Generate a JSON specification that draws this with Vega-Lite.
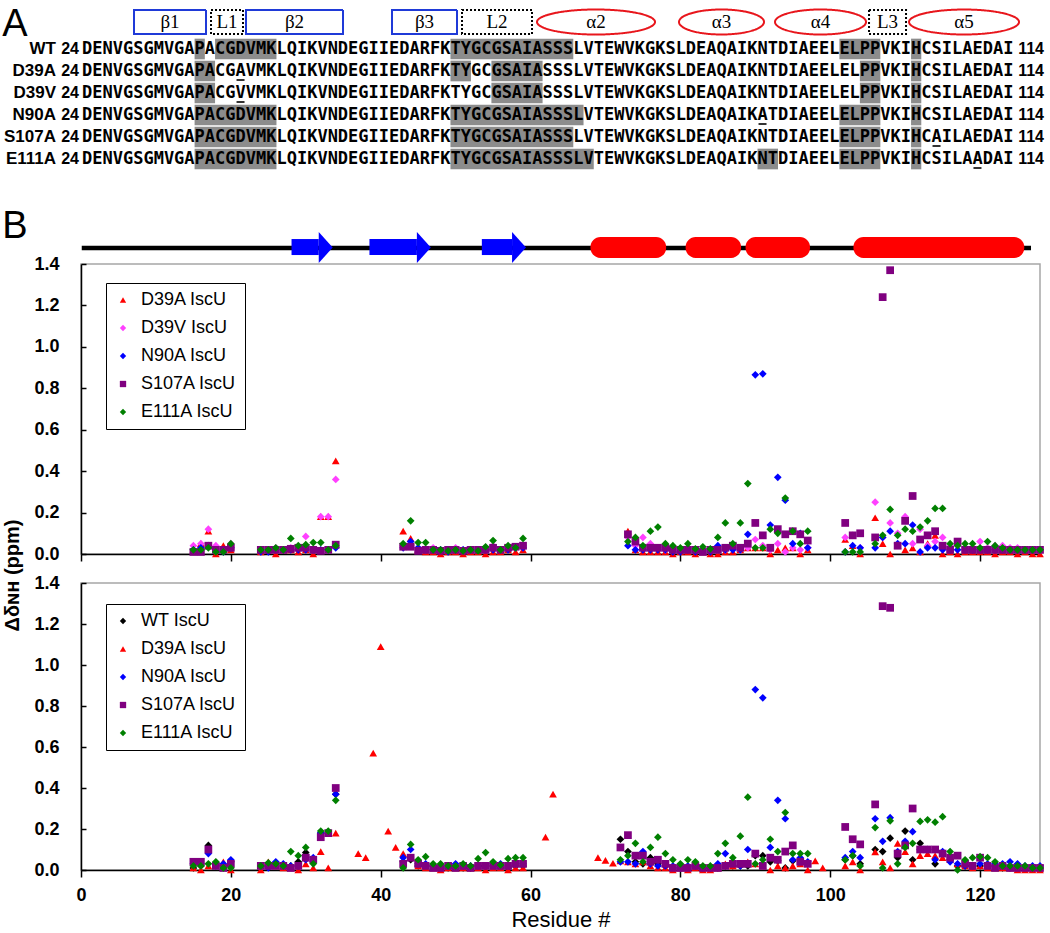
{
  "$schema": "https://vega.github.io/schema/vega-lite/v6.json",
  "padding": {"left": 2, "top": 5, "right": 2, "bottom": 2},
  "background": "white",
  "config": {
    "font": "Liberation Sans",
    "text": {"color": "black"},
    "axis": {"domainColor": "black", "domainWidth": 1.5, "tickColor": "black", "tickWidth": 1.5, "grid": false, "labelFont": "Liberation Sans", "labelFontSize": 18, "labelFontWeight": "bold", "labelColor": "black", "titleColor": "black", "titleFont": "Liberation Sans"}
  },
  "datasets": {
    "seq": [
      {"row": "WT", "start": 24, "end": 114, "seq": "DENVGSGMVGAPACGDVMKLQIKVNDEGIIEDARFKTYGCGSAIASSSLVTEWVKGKSLDEAQAIKNTDIAEELELPPVKIHCSILAEDAI"},
      {"row": "D39A", "start": 24, "end": 114, "seq": "DENVGSGMVGAPACGAVMKLQIKVNDEGIIEDARFKTYGCGSAIASSSLVTEWVKGKSLDEAQAIKNTDIAEELELPPVKIHCSILAEDAI"},
      {"row": "D39V", "start": 24, "end": 114, "seq": "DENVGSGMVGAPACGVVMKLQIKVNDEGIIEDARFKTYGCGSAIASSSLVTEWVKGKSLDEAQAIKNTDIAEELELPPVKIHCSILAEDAI"},
      {"row": "N90A", "start": 24, "end": 114, "seq": "DENVGSGMVGAPACGDVMKLQIKVNDEGIIEDARFKTYGCGSAIASSSLVTEWVKGKSLDEAQAIKATDIAEELELPPVKIHCSILAEDAI"},
      {"row": "S107A", "start": 24, "end": 114, "seq": "DENVGSGMVGAPACGDVMKLQIKVNDEGIIEDARFKTYGCGSAIASSSLVTEWVKGKSLDEAQAIKNTDIAEELELPPVKIHCAILAEDAI"},
      {"row": "E111A", "start": 24, "end": 114, "seq": "DENVGSGMVGAPACGDVMKLQIKVNDEGIIEDARFKTYGCGSAIASSSLVTEWVKGKSLDEAQAIKNTDIAEELELPPVKIHCSILAADAI"}
    ],
    "hl": [
      {"row": "WT", "from": 35, "to": 36}, {"row": "WT", "from": 37, "to": 43}, {"row": "WT", "from": 60, "to": 72}, {"row": "WT", "from": 98, "to": 102}, {"row": "WT", "from": 105, "to": 106},
      {"row": "D39A", "from": 35, "to": 37}, {"row": "D39A", "from": 60, "to": 62}, {"row": "D39A", "from": 64, "to": 69}, {"row": "D39A", "from": 100, "to": 102}, {"row": "D39A", "from": 105, "to": 106},
      {"row": "D39V", "from": 35, "to": 37}, {"row": "D39V", "from": 64, "to": 69}, {"row": "D39V", "from": 100, "to": 102}, {"row": "D39V", "from": 105, "to": 106},
      {"row": "N90A", "from": 35, "to": 43}, {"row": "N90A", "from": 60, "to": 73}, {"row": "N90A", "from": 98, "to": 102}, {"row": "N90A", "from": 105, "to": 106},
      {"row": "S107A", "from": 35, "to": 43}, {"row": "S107A", "from": 60, "to": 72}, {"row": "S107A", "from": 98, "to": 102}, {"row": "S107A", "from": 105, "to": 106},
      {"row": "E111A", "from": 35, "to": 43}, {"row": "E111A", "from": 60, "to": 74}, {"row": "E111A", "from": 90, "to": 92}, {"row": "E111A", "from": 98, "to": 102}, {"row": "E111A", "from": 105, "to": 106}
    ],
    "ul": [
      {"row": "D39A", "pos": 39}, {"row": "D39V", "pos": 39}, {"row": "N90A", "pos": 90}, {"row": "S107A", "pos": 107}, {"row": "E111A", "pos": 111}
    ],
    "ss": [
      {"lab": "β1", "c": 32.598}, {"lab": "L1", "c": 38.167}, {"lab": "β2", "c": 44.762}, {"lab": "β3", "c": 57.463}, {"lab": "L2", "c": 64.547},
      {"lab": "α2", "c": 74.22}, {"lab": "α3", "c": 86.481}, {"lab": "α4", "c": 96.154}, {"lab": "L3", "c": 102.701}, {"lab": "α5", "c": 110.175}
    ],
    "strands": [
      {"start": 28.1, "head": 31.73}, {"start": 38.5, "head": 44.83}, {"start": 53.5, "head": 57.53}
    ],
    "helices": [
      {"start": 68.0, "end": 78.1}, {"start": 80.7, "end": 88.1}, {"start": 88.7, "end": 97.3}, {"start": 103.1, "end": 125.9}
    ],
    "top": [
      {"r": 15, "D39A": 0.02, "D39V": 0.04, "N90A": 0.02, "S107A": 0.01, "E111A": 0.02},
      {"r": 16, "D39A": 0.05, "D39V": 0.05, "N90A": 0.03, "S107A": 0.01, "E111A": 0.02},
      {"r": 17, "D39A": 0.11, "D39V": 0.12, "N90A": 0.04, "S107A": 0.04, "E111A": 0.03},
      {"r": 18, "D39A": 0.0, "D39V": 0.04, "N90A": 0.02, "S107A": 0.02, "E111A": 0.01},
      {"r": 19, "D39A": 0.04, "D39V": 0.02, "N90A": 0.01, "S107A": 0.02, "E111A": 0.01},
      {"r": 20, "D39A": 0.02, "D39V": 0.05, "N90A": 0.03, "S107A": 0.03, "E111A": 0.05},
      {"r": 24, "D39A": 0.01, "D39V": 0.02, "N90A": 0.01, "S107A": 0.02, "E111A": 0.02},
      {"r": 25, "D39A": 0.02, "D39V": 0.02, "N90A": 0.01, "S107A": 0.02, "E111A": 0.02},
      {"r": 26, "D39A": 0.0, "D39V": 0.03, "N90A": 0.02, "S107A": 0.02, "E111A": 0.03},
      {"r": 27, "D39A": 0.02, "D39V": 0.02, "N90A": 0.02, "S107A": 0.02, "E111A": 0.02},
      {"r": 28, "D39A": 0.02, "D39V": 0.03, "N90A": 0.02, "S107A": 0.025, "E111A": 0.075},
      {"r": 29, "D39A": 0.01, "D39V": 0.03, "N90A": 0.02, "S107A": 0.03, "E111A": 0.04},
      {"r": 30, "D39A": 0.02, "D39V": 0.085, "N90A": 0.02, "S107A": 0.03, "E111A": 0.045},
      {"r": 31, "D39A": 0.0, "D39V": 0.02, "N90A": 0.02, "S107A": 0.02, "E111A": 0.055},
      {"r": 32, "D39A": 0.18, "D39V": 0.18, "N90A": 0.02, "S107A": 0.015, "E111A": 0.055},
      {"r": 33, "D39A": 0.18, "D39V": 0.18, "N90A": 0.02, "S107A": 0.02, "E111A": 0.02},
      {"r": 34, "D39A": 0.45, "D39V": 0.36, "N90A": 0.03, "S107A": 0.045, "E111A": 0.04},
      {"r": 43, "D39A": 0.11, "D39V": 0.04, "N90A": 0.03, "S107A": 0.035, "E111A": 0.05},
      {"r": 44, "D39A": 0.075, "D39V": 0.04, "N90A": 0.06, "S107A": 0.035, "E111A": 0.16},
      {"r": 45, "D39A": 0.02, "D39V": 0.03, "N90A": 0.03, "S107A": 0.015, "E111A": 0.055},
      {"r": 46, "D39A": 0.01, "D39V": 0.02, "N90A": 0.02, "S107A": 0.02, "E111A": 0.055},
      {"r": 47, "D39A": 0.01, "D39V": 0.03, "N90A": 0.02, "S107A": 0.02, "E111A": 0.02},
      {"r": 48, "D39A": 0.0, "D39V": 0.02, "N90A": 0.02, "S107A": 0.015, "E111A": 0.02},
      {"r": 49, "D39A": 0.01, "D39V": 0.02, "N90A": 0.01, "S107A": 0.02, "E111A": 0.015},
      {"r": 50, "D39A": 0.01, "D39V": 0.03, "N90A": 0.02, "S107A": 0.02, "E111A": 0.02},
      {"r": 51, "D39A": 0.0, "D39V": 0.02, "N90A": 0.02, "S107A": 0.015, "E111A": 0.015},
      {"r": 52, "D39A": 0.01, "D39V": 0.02, "N90A": 0.02, "S107A": 0.02, "E111A": 0.02},
      {"r": 53, "D39A": 0.01, "D39V": 0.02, "N90A": 0.02, "S107A": 0.02, "E111A": 0.015},
      {"r": 54, "D39A": 0.0, "D39V": 0.03, "N90A": 0.02, "S107A": 0.02, "E111A": 0.035},
      {"r": 55, "D39A": 0.01, "D39V": 0.04, "N90A": 0.02, "S107A": 0.03, "E111A": 0.065},
      {"r": 56, "D39A": 0.01, "D39V": 0.02, "N90A": 0.02, "S107A": 0.02, "E111A": 0.02},
      {"r": 57, "D39A": 0.02, "D39V": 0.03, "N90A": 0.02, "S107A": 0.03, "E111A": 0.04},
      {"r": 58, "D39A": 0.01, "D39V": 0.03, "N90A": 0.03, "S107A": 0.035, "E111A": 0.03},
      {"r": 59, "D39A": 0.02, "D39V": 0.04, "N90A": 0.03, "S107A": 0.04, "E111A": 0.075},
      {"r": 73, "D39A": 0.11, "D39V": 0.08, "N90A": 0.04, "S107A": 0.095, "E111A": 0.06},
      {"r": 74, "D39A": 0.02, "D39V": 0.04, "N90A": 0.02, "S107A": 0.06, "E111A": 0.08},
      {"r": 75, "D39A": 0.01, "D39V": 0.08, "N90A": 0.02, "S107A": 0.03, "E111A": 0.04},
      {"r": 76, "D39A": 0.01, "D39V": 0.05, "N90A": 0.02, "S107A": 0.03, "E111A": 0.11},
      {"r": 77, "D39A": 0.01, "D39V": 0.03, "N90A": 0.02, "S107A": 0.03, "E111A": 0.13},
      {"r": 78, "D39A": 0.01, "D39V": 0.02, "N90A": 0.02, "S107A": 0.03, "E111A": 0.05},
      {"r": 79, "D39A": 0.0, "D39V": 0.02, "N90A": 0.01, "S107A": 0.02, "E111A": 0.04},
      {"r": 80, "D39A": 0.01, "D39V": 0.02, "N90A": 0.01, "S107A": 0.02, "E111A": 0.03},
      {"r": 81, "D39A": 0.01, "D39V": 0.03, "N90A": 0.02, "S107A": 0.02, "E111A": 0.05},
      {"r": 82, "D39A": 0.0, "D39V": 0.02, "N90A": 0.01, "S107A": 0.02, "E111A": 0.025},
      {"r": 83, "D39A": 0.01, "D39V": 0.02, "N90A": 0.02, "S107A": 0.01, "E111A": 0.035},
      {"r": 84, "D39A": 0.0, "D39V": 0.02, "N90A": 0.01, "S107A": 0.02, "E111A": 0.025},
      {"r": 85, "D39A": 0.0, "D39V": 0.02, "N90A": 0.04, "S107A": 0.02, "E111A": 0.08},
      {"r": 86, "D39A": 0.01, "D39V": 0.02, "N90A": 0.02, "S107A": 0.03, "E111A": 0.15},
      {"r": 87, "D39A": 0.01, "D39V": 0.03, "N90A": 0.02, "S107A": 0.04, "E111A": 0.05},
      {"r": 88, "D39A": 0.02, "D39V": 0.02, "N90A": 0.02, "S107A": 0.03, "E111A": 0.15},
      {"r": 89, "D39A": 0.03, "D39V": 0.03, "N90A": 0.095, "S107A": 0.05, "E111A": 0.34},
      {"r": 90, "D39A": 0.03, "D39V": 0.07, "N90A": 0.865, "S107A": 0.15, "E111A": 0.03},
      {"r": 91, "D39A": 0.03, "D39V": 0.04, "N90A": 0.87, "S107A": 0.09, "E111A": 0.03},
      {"r": 92, "D39A": 0.0, "D39V": 0.02, "N90A": 0.14, "S107A": 0.03, "E111A": 0.12},
      {"r": 93, "D39A": 0.02, "D39V": 0.05, "N90A": 0.37, "S107A": 0.12, "E111A": 0.1},
      {"r": 94, "D39A": 0.03, "D39V": 0.01, "N90A": 0.26, "S107A": 0.095, "E111A": 0.27},
      {"r": 95, "D39A": 0.03, "D39V": 0.03, "N90A": 0.05, "S107A": 0.11, "E111A": 0.11},
      {"r": 96, "D39A": 0.0, "D39V": 0.02, "N90A": 0.1, "S107A": 0.095, "E111A": 0.05},
      {"r": 97, "D39A": 0.02, "D39V": 0.03, "N90A": 0.03, "S107A": 0.065, "E111A": 0.11},
      {"r": 102, "D39A": 0.07, "D39V": 0.08, "N90A": 0.01, "S107A": 0.15, "E111A": 0.01},
      {"r": 103, "D39A": 0.04, "D39V": 0.09, "N90A": 0.04, "S107A": 0.09, "E111A": 0.01},
      {"r": 104, "D39A": 0.0, "D39V": 0.03, "N90A": 0.03, "S107A": 0.1, "E111A": 0.01},
      {"r": 106, "D39A": 0.175, "D39V": 0.25, "N90A": 0.03, "S107A": 0.08, "E111A": 0.05},
      {"r": 107, "D39A": 0.05, "D39V": 0.08, "N90A": 0.08, "S107A": 1.24, "E111A": 0.09},
      {"r": 108, "D39A": 0.0, "D39V": 0.15, "N90A": 0.11, "S107A": 1.37, "E111A": 0.215},
      {"r": 109, "D39A": 0.04, "D39V": 0.1, "N90A": 0.05, "S107A": 0.04, "E111A": 0.09},
      {"r": 110, "D39A": 0.02, "D39V": 0.18, "N90A": 0.05, "S107A": 0.16, "E111A": 0.12},
      {"r": 111, "D39A": 0.03, "D39V": 0.05, "N90A": 0.14, "S107A": 0.28, "E111A": 0.11},
      {"r": 112, "D39A": 0.01, "D39V": 0.12, "N90A": 0.01, "S107A": 0.07, "E111A": 0.13},
      {"r": 113, "D39A": 0.05, "D39V": 0.04, "N90A": 0.03, "S107A": 0.09, "E111A": 0.16},
      {"r": 114, "D39A": 0.09, "D39V": 0.06, "N90A": 0.03, "S107A": 0.11, "E111A": 0.22},
      {"r": 115, "D39A": 0.0, "D39V": 0.08, "N90A": 0.02, "S107A": 0.04, "E111A": 0.22},
      {"r": 116, "D39A": 0.01, "D39V": 0.04, "N90A": 0.02, "S107A": 0.02, "E111A": 0.05},
      {"r": 117, "D39A": 0.0, "D39V": 0.04, "N90A": 0.02, "S107A": 0.06, "E111A": 0.04},
      {"r": 118, "D39A": 0.01, "D39V": 0.03, "N90A": 0.02, "S107A": 0.02, "E111A": 0.05},
      {"r": 119, "D39A": 0.01, "D39V": 0.03, "N90A": 0.02, "S107A": 0.02, "E111A": 0.05},
      {"r": 120, "D39A": 0.01, "D39V": 0.06, "N90A": 0.02, "S107A": 0.02, "E111A": 0.03},
      {"r": 121, "D39A": 0.01, "D39V": 0.03, "N90A": 0.02, "S107A": 0.02, "E111A": 0.06},
      {"r": 122, "D39A": 0.0, "D39V": 0.04, "N90A": 0.02, "S107A": 0.02, "E111A": 0.04},
      {"r": 123, "D39A": 0.01, "D39V": 0.04, "N90A": 0.02, "S107A": 0.02, "E111A": 0.03},
      {"r": 124, "D39A": 0.01, "D39V": 0.03, "N90A": 0.02, "S107A": 0.02, "E111A": 0.02},
      {"r": 125, "D39A": 0.0, "D39V": 0.03, "N90A": 0.02, "S107A": 0.02, "E111A": 0.02},
      {"r": 126, "D39A": 0.01, "D39V": 0.02, "N90A": 0.02, "S107A": 0.02, "E111A": 0.02},
      {"r": 127, "D39A": 0.0, "D39V": 0.02, "N90A": 0.02, "S107A": 0.02, "E111A": 0.02},
      {"r": 128, "D39A": 0.0, "D39V": 0.02, "N90A": 0.02, "S107A": 0.02, "E111A": 0.02}
    ],
    "bottom": [
      {"r": 15, "WT": 0.01, "D39A": 0.01, "N90A": 0.03, "S107A": 0.04, "E111A": 0.02},
      {"r": 16, "WT": 0.02, "D39A": 0.0, "N90A": 0.03, "S107A": 0.04, "E111A": 0.02},
      {"r": 17, "WT": 0.12, "D39A": 0.02, "N90A": 0.08, "S107A": 0.1, "E111A": 0.03},
      {"r": 18, "WT": 0.03, "D39A": 0.04, "N90A": 0.02, "S107A": 0.02, "E111A": 0.04},
      {"r": 19, "WT": 0.02, "D39A": 0.04, "N90A": 0.03, "S107A": 0.01, "E111A": 0.01},
      {"r": 20, "WT": 0.04, "D39A": 0.0, "N90A": 0.05, "S107A": 0.03, "E111A": 0.01},
      {"r": 24, "WT": 0.02, "D39A": 0.0, "N90A": 0.02, "S107A": 0.02, "E111A": 0.02},
      {"r": 25, "WT": 0.02, "D39A": 0.04, "N90A": 0.01, "S107A": 0.02, "E111A": 0.035},
      {"r": 26, "WT": 0.03, "D39A": 0.02, "N90A": 0.04, "S107A": 0.02, "E111A": 0.03},
      {"r": 27, "WT": 0.02, "D39A": 0.01, "N90A": 0.03, "S107A": 0.02, "E111A": 0.02},
      {"r": 28, "WT": 0.02, "D39A": 0.01, "N90A": 0.02, "S107A": 0.01, "E111A": 0.09},
      {"r": 29, "WT": 0.04, "D39A": 0.0, "N90A": 0.02, "S107A": 0.02, "E111A": 0.07},
      {"r": 30, "WT": 0.085, "D39A": 0.03, "N90A": 0.05, "S107A": 0.06, "E111A": 0.11},
      {"r": 31, "WT": 0.04, "D39A": 0.01, "N90A": 0.06, "S107A": 0.05, "E111A": 0.03},
      {"r": 32, "WT": 0.18, "D39A": 0.09, "N90A": 0.18, "S107A": 0.16, "E111A": 0.19},
      {"r": 33, "WT": 0.18, "D39A": 0.01, "N90A": 0.18, "S107A": 0.18, "E111A": 0.19},
      {"r": 34, "WT": 0.37, "D39A": 0.18, "N90A": 0.37, "S107A": 0.4, "E111A": 0.34},
      {"r": 37, "D39A": 0.08},
      {"r": 38, "D39A": 0.06},
      {"r": 39, "D39A": 0.57},
      {"r": 40, "D39A": 1.09},
      {"r": 41, "D39A": 0.19},
      {"r": 42, "D39A": 0.11},
      {"r": 43, "WT": 0.04, "D39A": 0.08, "N90A": 0.06, "S107A": 0.03, "E111A": 0.01},
      {"r": 44, "WT": 0.05, "D39A": 0.06, "N90A": 0.1, "S107A": 0.06, "E111A": 0.125},
      {"r": 45, "WT": 0.02, "D39A": 0.02, "N90A": 0.03, "S107A": 0.03, "E111A": 0.05},
      {"r": 46, "WT": 0.02, "D39A": 0.01, "N90A": 0.03, "S107A": 0.02, "E111A": 0.065},
      {"r": 47, "WT": 0.02, "D39A": 0.01, "N90A": 0.02, "S107A": 0.01, "E111A": 0.03},
      {"r": 48, "WT": 0.01, "D39A": 0.0, "N90A": 0.02, "S107A": 0.01, "E111A": 0.03},
      {"r": 49, "WT": 0.01, "D39A": 0.01, "N90A": 0.02, "S107A": 0.02, "E111A": 0.02},
      {"r": 50, "WT": 0.02, "D39A": 0.01, "N90A": 0.03, "S107A": 0.01, "E111A": 0.02},
      {"r": 51, "WT": 0.01, "D39A": 0.01, "N90A": 0.02, "S107A": 0.02, "E111A": 0.03},
      {"r": 52, "WT": 0.01, "D39A": 0.01, "N90A": 0.02, "S107A": 0.01, "E111A": 0.02},
      {"r": 53, "WT": 0.02, "D39A": 0.01, "N90A": 0.02, "S107A": 0.02, "E111A": 0.055},
      {"r": 54, "WT": 0.02, "D39A": 0.0, "N90A": 0.02, "S107A": 0.02, "E111A": 0.085},
      {"r": 55, "WT": 0.02, "D39A": 0.01, "N90A": 0.03, "S107A": 0.02, "E111A": 0.04},
      {"r": 56, "WT": 0.02, "D39A": 0.01, "N90A": 0.03, "S107A": 0.02, "E111A": 0.025},
      {"r": 57, "WT": 0.01, "D39A": 0.0, "N90A": 0.02, "S107A": 0.02, "E111A": 0.055},
      {"r": 58, "WT": 0.02, "D39A": 0.01, "N90A": 0.03, "S107A": 0.03, "E111A": 0.06},
      {"r": 59, "WT": 0.02, "D39A": 0.01, "N90A": 0.03, "S107A": 0.03, "E111A": 0.06},
      {"r": 62, "D39A": 0.16},
      {"r": 63, "D39A": 0.37},
      {"r": 69, "D39A": 0.06},
      {"r": 70, "D39A": 0.047},
      {"r": 71, "D39A": 0.033},
      {"r": 72, "WT": 0.15, "D39A": 0.045, "N90A": 0.04, "S107A": 0.11, "E111A": 0.05},
      {"r": 73, "WT": 0.09, "D39A": 0.04, "N90A": 0.04, "S107A": 0.17, "E111A": 0.07},
      {"r": 74, "WT": 0.04, "D39A": 0.03, "N90A": 0.03, "S107A": 0.07, "E111A": 0.13},
      {"r": 75, "WT": 0.03, "D39A": 0.04, "N90A": 0.09, "S107A": 0.07, "E111A": 0.04},
      {"r": 76, "WT": 0.06, "D39A": 0.02, "N90A": 0.03, "S107A": 0.04, "E111A": 0.11},
      {"r": 77, "WT": 0.03, "D39A": 0.01, "N90A": 0.02, "S107A": 0.05, "E111A": 0.16},
      {"r": 78, "WT": 0.02, "D39A": 0.01, "N90A": 0.02, "S107A": 0.03, "E111A": 0.08},
      {"r": 79, "WT": 0.01, "D39A": 0.0, "N90A": 0.02, "S107A": 0.01, "E111A": 0.05},
      {"r": 80, "WT": 0.01, "D39A": 0.01, "N90A": 0.01, "S107A": 0.01, "E111A": 0.03},
      {"r": 81, "WT": 0.01, "D39A": 0.0, "N90A": 0.02, "S107A": 0.01, "E111A": 0.05},
      {"r": 82, "WT": 0.02, "D39A": 0.01, "N90A": 0.02, "S107A": 0.02, "E111A": 0.04},
      {"r": 83, "WT": 0.01, "D39A": 0.0, "N90A": 0.01, "S107A": 0.01, "E111A": 0.02},
      {"r": 84, "WT": 0.01, "D39A": 0.0, "N90A": 0.01, "S107A": 0.01, "E111A": 0.02},
      {"r": 85, "WT": 0.01, "D39A": 0.01, "N90A": 0.03, "S107A": 0.01, "E111A": 0.08},
      {"r": 86, "WT": 0.02, "D39A": 0.03, "N90A": 0.08, "S107A": 0.02, "E111A": 0.13},
      {"r": 87, "WT": 0.02, "D39A": 0.02, "N90A": 0.04, "S107A": 0.03, "E111A": 0.06},
      {"r": 88, "WT": 0.02, "D39A": 0.03, "N90A": 0.02, "S107A": 0.03, "E111A": 0.165},
      {"r": 89, "WT": 0.02, "D39A": 0.04, "N90A": 0.1, "S107A": 0.03, "E111A": 0.355},
      {"r": 90, "WT": 0.07, "D39A": 0.03, "N90A": 0.88, "S107A": 0.08, "E111A": 0.03},
      {"r": 91, "WT": 0.07, "D39A": 0.02, "N90A": 0.84, "S107A": 0.02, "E111A": 0.05},
      {"r": 92, "WT": 0.04, "D39A": 0.0, "N90A": 0.11, "S107A": 0.06, "E111A": 0.15},
      {"r": 93, "WT": 0.045, "D39A": 0.02, "N90A": 0.34, "S107A": 0.05, "E111A": 0.09},
      {"r": 94, "WT": 0.01, "D39A": 0.01, "N90A": 0.25, "S107A": 0.09, "E111A": 0.28},
      {"r": 95, "WT": 0.045, "D39A": 0.02, "N90A": 0.05, "S107A": 0.12, "E111A": 0.08},
      {"r": 96, "WT": 0.05, "D39A": 0.03, "N90A": 0.06, "S107A": 0.04, "E111A": 0.08},
      {"r": 97, "WT": 0.03, "D39A": 0.0, "N90A": 0.04, "S107A": 0.03, "E111A": 0.08},
      {"r": 98, "D39A": 0.045},
      {"r": 99, "D39A": 0.01},
      {"r": 102, "WT": 0.05, "D39A": 0.02, "N90A": 0.06, "S107A": 0.21, "E111A": 0.05},
      {"r": 103, "WT": 0.07, "D39A": 0.04, "N90A": 0.09, "S107A": 0.15, "E111A": 0.07},
      {"r": 104, "WT": 0.03, "D39A": 0.0, "N90A": 0.06, "S107A": 0.125, "E111A": 0.02},
      {"r": 106, "WT": 0.1, "D39A": 0.088, "N90A": 0.25, "S107A": 0.32, "E111A": 0.207},
      {"r": 107, "WT": 0.09, "D39A": 0.04, "N90A": 0.14, "S107A": 1.287, "E111A": 0.01},
      {"r": 108, "WT": 0.155, "D39A": 0.01, "N90A": 0.255, "S107A": 1.279, "E111A": 0.24},
      {"r": 109, "WT": 0.06, "D39A": 0.13, "N90A": 0.09, "S107A": 0.08, "E111A": 0.03},
      {"r": 110, "WT": 0.19, "D39A": 0.09, "N90A": 0.14, "S107A": 0.12, "E111A": 0.11},
      {"r": 111, "WT": 0.05, "D39A": 0.03, "N90A": 0.187, "S107A": 0.3, "E111A": 0.13},
      {"r": 112, "WT": 0.13, "D39A": 0.07, "N90A": 0.1, "S107A": 0.1, "E111A": 0.237},
      {"r": 113, "WT": 0.1, "D39A": 0.08, "N90A": 0.1, "S107A": 0.1, "E111A": 0.245},
      {"r": 114, "WT": 0.03, "D39A": 0.07, "N90A": 0.05, "S107A": 0.1, "E111A": 0.233},
      {"r": 115, "WT": 0.08, "D39A": 0.06, "N90A": 0.09, "S107A": 0.08, "E111A": 0.26},
      {"r": 116, "WT": 0.05, "D39A": 0.05, "N90A": 0.04, "S107A": 0.06, "E111A": 0.09},
      {"r": 117, "WT": 0.02, "D39A": 0.03, "N90A": 0.03, "S107A": 0.07, "E111A": 0.0},
      {"r": 118, "WT": 0.02, "D39A": 0.02, "N90A": 0.02, "S107A": 0.03, "E111A": 0.05},
      {"r": 119, "WT": 0.02, "D39A": 0.01, "N90A": 0.02, "S107A": 0.02, "E111A": 0.06},
      {"r": 120, "WT": 0.02, "D39A": 0.02, "N90A": 0.03, "S107A": 0.06, "E111A": 0.065},
      {"r": 121, "WT": 0.02, "D39A": 0.01, "N90A": 0.03, "S107A": 0.02, "E111A": 0.06},
      {"r": 122, "WT": 0.02, "D39A": 0.01, "N90A": 0.03, "S107A": 0.01, "E111A": 0.04},
      {"r": 123, "WT": 0.01, "D39A": 0.01, "N90A": 0.03, "S107A": 0.02, "E111A": 0.02},
      {"r": 124, "WT": 0.01, "D39A": 0.01, "N90A": 0.04, "S107A": 0.01, "E111A": 0.02},
      {"r": 125, "WT": 0.01, "D39A": 0.0, "N90A": 0.03, "S107A": 0.01, "E111A": 0.02},
      {"r": 126, "WT": 0.01, "D39A": 0.0, "N90A": 0.02, "S107A": 0.01, "E111A": 0.02},
      {"r": 127, "WT": 0.01, "D39A": 0.0, "N90A": 0.02, "S107A": 0.01, "E111A": 0.01},
      {"r": 128, "WT": 0.01, "D39A": 0.0, "N90A": 0.02, "S107A": 0.01, "E111A": 0.01}
    ]
  },
  "spacing": 62,
  "bounds": "flush",
  "resolve": {
    "scale": {"color": "independent", "shape": "independent", "size": "independent", "stroke": "independent", "strokeDash": "independent"},
    "legend": {"color": "independent", "shape": "independent", "size": "independent", "stroke": "independent", "strokeDash": "independent"}
  },
  "vconcat": [
    {
      "width": 959,
      "height": 154,
      "view": {"stroke": null},
      "layer": [
        {
          "data": {"name": "hl"},
          "mark": {"type": "rect", "color": "#8c8c8c"},
          "encoding": {
            "x": {"field": "from", "type": "quantitative", "scale": {"domain": [23.902, 117.598], "nice": false, "zero": false}, "axis": null},
            "x2": {"field": "to"},
            "y": {"field": "row", "type": "nominal", "scale": {"domain": ["hdr", "WT", "D39A", "D39V", "N90A", "S107A", "E111A"], "paddingInner": 0.06, "paddingOuter": 0.03}, "axis": null}
          }
        },
        {
          "data": {"name": "seq"},
          "mark": {"type": "text", "align": "left", "baseline": "middle", "font": "DejaVu Sans Mono", "fontWeight": "bold", "fontSize": 17, "color": "black"},
          "encoding": {
            "x": {"field": "start", "type": "quantitative"},
            "y": {"field": "row", "type": "nominal"},
            "text": {"field": "seq"}
          }
        },
        {
          "data": {"name": "seq"},
          "mark": {"type": "text", "align": "right", "baseline": "middle", "fontWeight": "bold", "fontSize": 17, "dx": -26, "color": "black"},
          "encoding": {
            "x": {"field": "start", "type": "quantitative"},
            "y": {"field": "row", "type": "nominal"},
            "text": {"field": "row"}
          }
        },
        {
          "data": {"name": "seq"},
          "mark": {"type": "text", "align": "right", "baseline": "middle", "fontWeight": "bold", "fontSize": 16, "dx": -3, "color": "black"},
          "encoding": {
            "x": {"field": "start", "type": "quantitative"},
            "y": {"field": "row", "type": "nominal"},
            "text": {"field": "start"}
          }
        },
        {
          "data": {"name": "seq"},
          "mark": {"type": "text", "align": "left", "baseline": "middle", "fontWeight": "bold", "fontSize": 16, "dx": 15, "color": "black"},
          "encoding": {
            "x": {"field": "end", "type": "quantitative"},
            "y": {"field": "row", "type": "nominal"},
            "text": {"field": "end"}
          }
        },
        {
          "data": {"name": "ul"},
          "mark": {"type": "rule", "color": "black", "strokeWidth": 1.6, "xOffset": 1, "x2Offset": 9, "yOffset": 9},
          "encoding": {
            "x": {"field": "pos", "type": "quantitative"},
            "x2": {"field": "pos"},
            "y": {"field": "row", "type": "nominal"}
          }
        },
        {
          "data": {"name": "ss"},
          "mark": {"type": "point", "filled": false, "strokeWidth": 2, "opacity": 1, "yOffset": -5},
          "encoding": {
            "x": {"field": "c", "type": "quantitative"},
            "y": {"datum": "hdr", "type": "nominal"},
            "shape": {"field": "lab", "type": "nominal", "legend": null, "scale": {"domain": ["β1", "L1", "β2", "β3", "L2", "α2", "α3", "α4", "L3", "α5"], "range": [
              "M-1,-0.333L1,-0.333L1,0.333L-1,0.333Z",
              "M-1,-0.75L1,-0.75L1,0.75L-1,0.75Z",
              "M-1,-0.247L1,-0.247L1,0.247L-1,0.247Z",
              "M-1,-0.369L1,-0.369L1,0.369L-1,0.369Z",
              "M-1,-0.343L1,-0.343L1,0.343L-1,0.343Z",
              "M-1,0A1,0.212,0,1,1,1,0A1,0.212,0,1,1,-1,0Z",
              "M-1,0A1,0.294,0,1,1,1,0A1,0.294,0,1,1,-1,0Z",
              "M-1,0A1,0.275,0,1,1,1,0A1,0.275,0,1,1,-1,0Z",
              "M-1,-0.649L1,-0.649L1,0.649L-1,0.649Z",
              "M-1,0A1,0.227,0,1,1,1,0A1,0.227,0,1,1,-1,0Z"
            ]}},
            "size": {"field": "lab", "type": "nominal", "legend": null, "scale": {"type": "ordinal", "domain": ["β1", "L1", "β2", "β3", "L2", "α2", "α3", "α4", "L3", "α5"], "range": [5184, 1024, 9409, 4225, 4900, 13924, 7225, 8281, 1369, 12100]}},
            "stroke": {"field": "lab", "type": "nominal", "legend": null, "scale": {"domain": ["β1", "L1", "β2", "β3", "L2", "α2", "α3", "α4", "L3", "α5"], "range": ["#1f3ad8", "#000000", "#1f3ad8", "#1f3ad8", "#000000", "#e8161c", "#e8161c", "#e8161c", "#000000", "#e8161c"]}},
            "strokeDash": {"field": "lab", "type": "nominal", "legend": null, "scale": {"domain": ["β1", "L1", "β2", "β3", "L2", "α2", "α3", "α4", "L3", "α5"], "range": [[1, 0], [2, 2], [1, 0], [1, 0], [2, 2], [1, 0], [1, 0], [1, 0], [2, 2], [1, 0]]}}
          }
        },
        {
          "data": {"name": "ss"},
          "mark": {"type": "text", "font": "Liberation Serif", "fontSize": 19, "baseline": "middle", "align": "center", "yOffset": -5, "color": "black"},
          "encoding": {
            "x": {"field": "c", "type": "quantitative"},
            "y": {"datum": "hdr", "type": "nominal"},
            "text": {"field": "lab"}
          }
        },
        {
          "data": {"values": [{"t": "A"}]},
          "mark": {"type": "text", "fontSize": 38, "align": "left", "baseline": "alphabetic", "yOffset": 9, "color": "black"},
          "encoding": {
            "x": {"datum": 16.2, "type": "quantitative"},
            "y": {"datum": "hdr", "type": "nominal"},
            "text": {"field": "t"}
          }
        }
      ]
    },
    {
      "spacing": 0,
      "bounds": "flush",
      "resolve": {
        "scale": {"color": "independent", "shape": "independent"},
        "legend": {"color": "independent", "shape": "independent"}
      },
      "vconcat": [
        {
          "width": 959,
          "height": 32,
          "view": {"stroke": null},
          "layer": [
            {
              "data": {"values": [{"from": 0.1, "to": 126.8}]},
              "mark": {"type": "rule", "color": "black", "strokeWidth": 4.5},
              "encoding": {
                "x": {"field": "from", "type": "quantitative", "scale": {"domain": [0, 128], "nice": false, "zero": false}, "axis": null},
                "x2": {"field": "to"},
                "y": {"datum": 0.5, "type": "quantitative", "scale": {"domain": [0, 1], "nice": false, "zero": false}, "axis": null}
              }
            },
            {
              "data": {"name": "strands"},
              "mark": {"type": "rect", "color": "#0000ff"},
              "encoding": {
                "x": {"field": "start", "type": "quantitative"},
                "x2": {"field": "head"},
                "y": {"datum": 0.28, "type": "quantitative"},
                "y2": {"datum": 0.78}
              }
            },
            {
              "data": {"name": "strands"},
              "mark": {"type": "point", "filled": true, "opacity": 1, "color": "#0000ff", "shape": "M-0.45,-1L0.45,0L-0.45,1Z", "size": 961, "xOffset": 7},
              "encoding": {
                "x": {"field": "head", "type": "quantitative"},
                "y": {"datum": 0.515, "type": "quantitative"}
              }
            },
            {
              "data": {"name": "helices"},
              "mark": {"type": "rect", "color": "#ff0000", "cornerRadius": 10},
              "encoding": {
                "x": {"field": "start", "type": "quantitative"},
                "x2": {"field": "end"},
                "y": {"datum": 0.19, "type": "quantitative"},
                "y2": {"datum": 0.84}
              }
            },
            {
              "data": {"values": [{"t": "B"}]},
              "mark": {"type": "text", "fontSize": 38, "align": "left", "baseline": "alphabetic", "color": "black"},
              "encoding": {
                "x": {"datum": -10.5, "type": "quantitative"},
                "y": {"datum": 0.8125, "type": "quantitative"},
                "text": {"field": "t"}
              }
            }
          ]
        },
        {
          "spacing": 29,
          "bounds": "flush",
          "resolve": {
            "scale": {"color": "independent", "shape": "independent"},
            "legend": {"color": "independent", "shape": "independent"}
          },
          "vconcat": [
            {
              "width": 959,
              "height": 290,
              "view": {"stroke": "#a6a6a6", "strokeWidth": 1.5},
              "data": {"name": "top"},
              "transform": [
                {"fold": ["D39A", "D39V", "N90A", "S107A", "E111A"], "as": ["series", "value"]},
                {"filter": "isValid(datum.value)"}
              ],
              "mark": {"type": "point", "filled": true, "size": 60, "opacity": 1, "strokeWidth": 0},
              "encoding": {
                "x": {"field": "r", "type": "quantitative", "scale": {"domain": [0, 128], "nice": false, "zero": false}, "axis": {"values": [0, 20, 40, 60, 80, 100, 120], "labels": false, "tickSize": 7, "title": null}},
                "y": {"field": "value", "type": "quantitative", "scale": {"domain": [0, 1.4], "nice": false}, "axis": {"values": [0, 0.2, 0.4, 0.6, 0.8, 1, 1.2, 1.4], "format": ".1f", "title": null, "tickSize": -5, "labelPadding": 27}},
                "color": {"field": "series", "type": "nominal", "scale": {"domain": ["D39A", "D39V", "N90A", "S107A", "E111A"], "range": ["#ff0000", "#ff40ff", "#0000ff", "#800080", "#008000"]},
                  "legend": {"orient": "none", "legendX": 25, "legendY": 19, "title": null, "fillColor": "white", "strokeColor": "black", "padding": 8, "rowPadding": 10, "labelFontSize": 18, "labelFont": "Liberation Sans", "labelColor": "black", "symbolSize": 40, "labelOffset": 9, "symbolStrokeWidth": 0, "labelExpr": "datum.label + ' IscU'"}},
                "shape": {"field": "series", "type": "nominal", "scale": {"domain": ["D39A", "D39V", "N90A", "S107A", "E111A"], "range": ["triangle-up", "diamond", "diamond", "square", "diamond"]},
                  "legend": {"orient": "none", "legendX": 25, "legendY": 19, "title": null, "fillColor": "white", "strokeColor": "black", "padding": 8, "rowPadding": 10, "labelFontSize": 18, "labelFont": "Liberation Sans", "labelColor": "black", "symbolSize": 40, "labelOffset": 9, "symbolStrokeWidth": 0, "labelExpr": "datum.label + ' IscU'"}}
              }
            },
            {
              "width": 959,
              "height": 287,
              "view": {"stroke": "#a6a6a6", "strokeWidth": 1.5},
              "data": {"name": "bottom"},
              "transform": [
                {"fold": ["WT", "D39A", "N90A", "S107A", "E111A"], "as": ["series", "value"]},
                {"filter": "isValid(datum.value)"}
              ],
              "mark": {"type": "point", "filled": true, "size": 60, "opacity": 1, "strokeWidth": 0},
              "encoding": {
                "x": {"field": "r", "type": "quantitative", "scale": {"domain": [0, 128], "nice": false, "zero": false}, "axis": {"values": [0, 20, 40, 60, 80, 100, 120], "labelFlush": false, "tickSize": 7, "labelPadding": 9, "title": "Residue #", "titleFontSize": 22, "titleFontWeight": "normal", "titlePadding": 5}},
                "y": {"field": "value", "type": "quantitative", "scale": {"domain": [0, 1.4], "nice": false}, "axis": {"values": [0, 0.2, 0.4, 0.6, 0.8, 1, 1.2, 1.4], "format": ".1f", "tickSize": -5, "labelPadding": 27, "title": "Δδɴʜ (ppm)", "titleFontSize": 20, "titleFontWeight": "bold", "titleY": -8, "titlePadding": 11}},
                "color": {"field": "series", "type": "nominal", "scale": {"domain": ["WT", "D39A", "N90A", "S107A", "E111A"], "range": ["#000000", "#ff0000", "#0000ff", "#800080", "#008000"]},
                  "legend": {"orient": "none", "legendX": 25, "legendY": 21, "title": null, "fillColor": "white", "strokeColor": "black", "padding": 8, "rowPadding": 10, "labelFontSize": 18, "labelFont": "Liberation Sans", "labelColor": "black", "symbolSize": 40, "labelOffset": 9, "symbolStrokeWidth": 0, "labelExpr": "datum.label + ' IscU'"}},
                "shape": {"field": "series", "type": "nominal", "scale": {"domain": ["WT", "D39A", "N90A", "S107A", "E111A"], "range": ["diamond", "triangle-up", "diamond", "square", "diamond"]},
                  "legend": {"orient": "none", "legendX": 25, "legendY": 21, "title": null, "fillColor": "white", "strokeColor": "black", "padding": 8, "rowPadding": 10, "labelFontSize": 18, "labelFont": "Liberation Sans", "labelColor": "black", "symbolSize": 40, "labelOffset": 9, "symbolStrokeWidth": 0, "labelExpr": "datum.label + ' IscU'"}}
              }
            }
          ]
        }
      ]
    }
  ]
}
